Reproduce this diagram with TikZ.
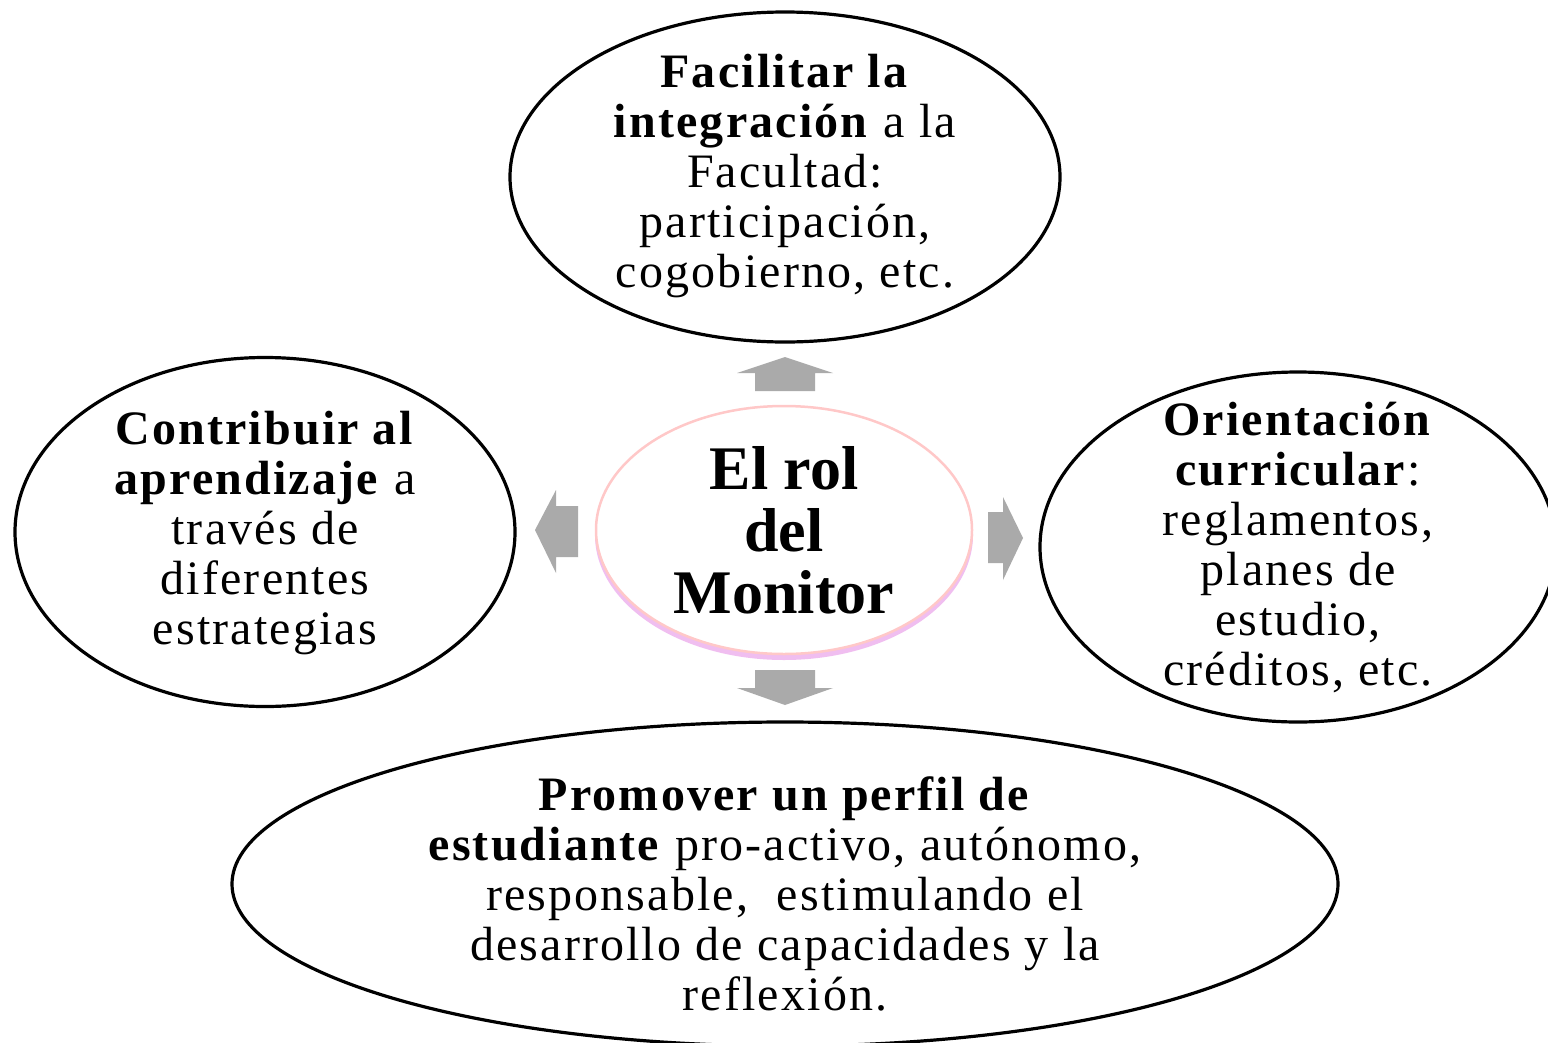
\documentclass[tikz,border=0pt]{standalone}
\usepackage{fontspec}
\setmainfont[LetterSpace=4.5]{Liberation Serif}
\newfontfamily\ctrfont{Liberation Serif}
\usetikzlibrary{shapes.geometric}
\definecolor{arrowgray}{HTML}{AAAAAA}
\definecolor{pinkedge}{HTML}{FFC8C8}
\definecolor{glow}{HTML}{F0BEF0}
\tikzset{
  bubble/.style={ellipse, draw=black, line width=3.2pt, fill=white, inner sep=0pt},
  bubtext/.style={align=center, font=\fontsize{48}{50}\selectfont, inner sep=0pt},
  blockarrow/.style={fill=arrowgray, draw=none}
}
\begin{document}
\begin{tikzpicture}[x=1pt,y=-1pt]
\useasboundingbox (0,0) rectangle (1548,1042);
\fill[white] (0,0) rectangle (1548,1042);
% outer bubbles
\node[bubble, minimum width=550pt, minimum height=330pt] (top) at (785,177) {};
\node[bubble, minimum width=500pt, minimum height=349pt] (left) at (265,532) {};
\node[bubble, minimum width=516pt, minimum height=350pt] (right) at (1298,547) {};
\node[bubble, minimum width=1106pt, minimum height=324pt] (bottom) at (785,884) {};
% texts
\node[bubtext] (toptxt) at (785,176) {\textbf{Facilitar la}\\ \textbf{integración} a la\\ Facultad:\\ participación,\\ cogobierno, etc.};
\node[bubtext] (lefttxt) at (265,533) {\textbf{Contribuir al}\\ \textbf{aprendizaje} a\\ través de\\ diferentes\\ estrategias};
\node[bubtext] (righttxt) at (1298,548) {\textbf{Orientación}\\ \textbf{curricular}:\\ reglamentos,\\ planes de\\ estudio,\\ créditos, etc.};
\node[bubtext] (bottomtxt) at (785,894) {\textbf{Promover un perfil de}\\ \textbf{estudiante} pro-activo, autónomo,\\ responsable,\ \ estimulando el\\ desarrollo de capacidades y la\\ reflexión.};
% center
\fill[glow] (784,535) ellipse [x radius=189pt, y radius=125pt];
\node[ellipse, draw=pinkedge, line width=2.5pt, fill=white, minimum width=376pt, minimum height=248pt, inner sep=0pt] (center) at (784,530) {};
\node[align=center, inner sep=0pt, font=\ctrfont\fontsize{62}{62}\selectfont\bfseries] (centertxt) at (784,530) {El rol\\ del\\ Monitor};
% block arrows
\fill[blockarrow] (785,357) -- (833,373) -- (815,373) -- (815,391) -- (755,391) -- (755,373) -- (737,373) -- cycle;
\fill[blockarrow] (785,705) -- (833,688) -- (815,688) -- (815,670) -- (755,670) -- (755,688) -- (737,688) -- cycle;
\fill[blockarrow] (535,530) -- (556,490) -- (556,506) -- (578,506) -- (578,557) -- (556,557) -- (556,573) -- cycle;
\fill[blockarrow] (1023,538) -- (1003,497) -- (1003,512) -- (988,512) -- (988,563) -- (1003,563) -- (1003,580) -- cycle;
\end{tikzpicture}
\end{document}
